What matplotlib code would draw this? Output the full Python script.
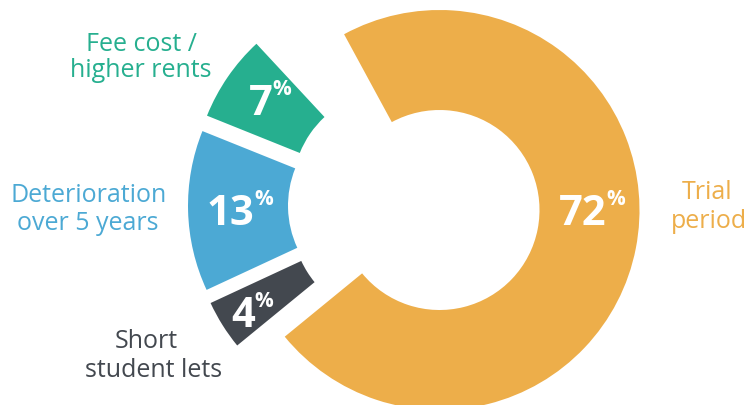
import numpy as np
import matplotlib.pyplot as plt

plt.rcParams['font.family'] = ['Open Sans', 'DejaVu Sans']

# share of respondents per reason (percent)
reasons = ['Trial period', 'Short student lets', 'Deterioration over 5 years', 'Fee cost / higher rents']
shares = [72, 4, 13, 7]
colors = ['#EDAE4A', '#43484F', '#4CA9D4', '#26AF8F']

W, H = 747, 405
fig = plt.figure(figsize=(W / 100, H / 100), dpi=100)
ax = fig.add_axes([0, 0, 1, 1])

R = 200
wedges, _ = ax.pie([s / 100 for s in shares], colors=colors, normalize=False,
                   startangle=118.5, counterclock=False, radius=R,
                   center=(414, 200), explode=[26] * len(shares),
                   wedgeprops=dict(width=R / 2, linewidth=0))

ax.set_xlim(0, W)
ax.set_ylim(0, H)
ax.set_aspect('equal')
ax.axis('off')

# percentage inside each ring segment
label_r = [0.715, 0.88, 0.79, 0.8]
for w, s, lr in zip(wedges, shares, label_r):
    cx, cy = w.center
    if s == max(shares):
        ang = 0.0
    else:
        ang = np.deg2rad((w.theta1 + w.theta2) / 2)
    x = cx + lr * R * np.cos(ang)
    y = cy + lr * R * np.sin(ang)
    t = ax.text(x, y - 15, str(s), color='white', fontsize=30, fontweight='bold',
                ha='center', va='baseline')
    ax.annotate('%', xy=(1, 0), xycoords=t, xytext=(0, 21.5), textcoords='offset points',
                color='white', fontsize=15, fontweight='bold', ha='left', va='baseline')

# outer category labels
outer = [
    ('Fee cost /', 141, 354, colors[3]),
    ('higher rents', 141, 328, colors[3]),
    ('Deterioration', 89, 203, colors[2]),
    ('over 5 years', 88, 175, colors[2]),
    ('Short', 146, 57, colors[1]),
    ('student lets', 154, 28, colors[1]),
    ('Trial', 707, 206, colors[0]),
    ('period', 709, 177, colors[0]),
]
for txt, x, y, c in outer:
    ax.text(x, y, txt, color=c, fontsize=18, ha='center', va='baseline')

fig.savefig('out.png', dpi=100)
